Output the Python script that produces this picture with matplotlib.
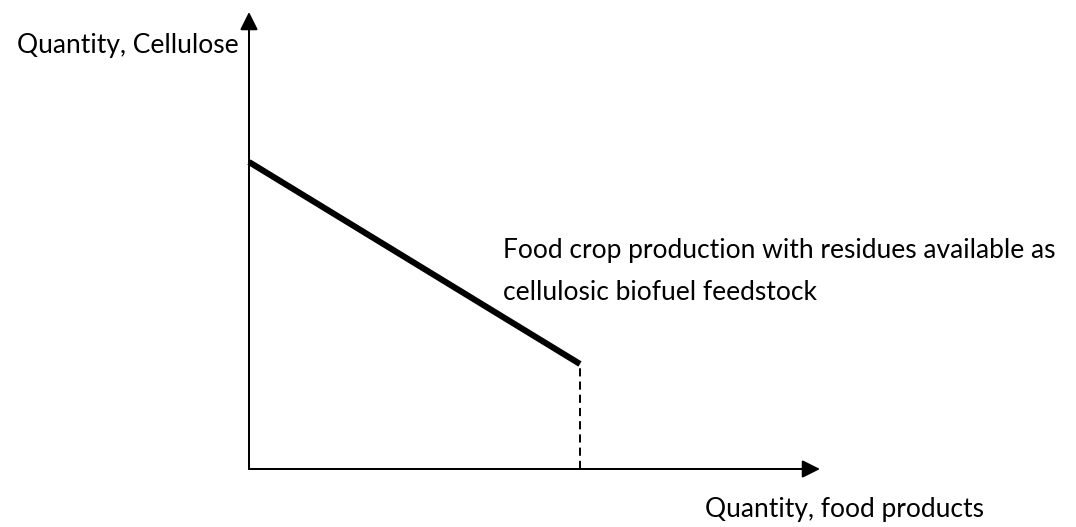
import matplotlib
matplotlib.use("Agg")
import matplotlib.pyplot as plt

# Data (axis units, origin at the corner of the axes)
food_products = [0.0, 3.31]       # x of the production frontier
cellulose = [3.07, 1.05]          # y of the production frontier
x_axis_end = 5.71
y_axis_end = 4.57

y_label = "Quantity, Cellulose"
x_label = "Quantity, food products"
annotation_lines = ["Food crop production with residues available as",
                    "cellulosic biofuel feedstock"]

plt.rcParams['font.family'] = ['Lato', 'DejaVu Sans']
FS = 19

fig = plt.figure(figsize=(10.76, 5.27), dpi=100)
ax = fig.add_axes([0, 0, 1, 1])
ax.set_xlim(-2.49, 8.27)
ax.set_ylim(-0.58, 4.69)
ax.axis('off')

arrow_kw = dict(arrowstyle='-|>,head_length=0.4,head_width=0.2', mutation_scale=27,
                lw=1.45, color='black', shrinkA=0, shrinkB=0)
ax.annotate('', xy=(x_axis_end, 0), xytext=(0, 0), arrowprops=arrow_kw)
ax.annotate('', xy=(0, y_axis_end), xytext=(0, 0), arrowprops=arrow_kw)

ax.plot(food_products, cellulose, color='black', lw=4.4, solid_capstyle='butt')
ax.plot([food_products[-1], food_products[-1]], [0, cellulose[-1]], color='black',
        lw=1.4, ls=(0, (4.2, 2.6)))

ax.text(-2.32, 4.16, y_label, fontsize=FS, ha='left', va='baseline')
for i, line in enumerate(annotation_lines):
    ax.text(2.54, 2.11 - 0.42 * i, line, fontsize=FS, ha='left', va='baseline')
ax.text(4.56, -0.48, x_label, fontsize=FS, ha='left', va='baseline')

fig.savefig('out.png', dpi=100)
